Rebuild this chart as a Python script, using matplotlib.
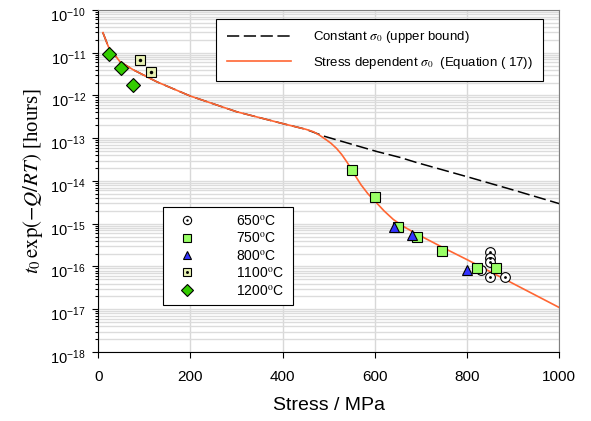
import numpy as np
import matplotlib
matplotlib.use('Agg')
import matplotlib.pyplot as plt
from matplotlib.ticker import LogLocator, NullFormatter
from matplotlib.transforms import ScaledTranslation
from matplotlib.legend_handler import HandlerTuple

plt.rcParams['font.family'] = ['Liberation Sans', 'DejaVu Sans']
plt.rcParams['mathtext.fontset'] = 'stix'
plt.rcParams['axes.unicode_minus'] = False

# model curves: stress (MPa) and log10 of t0*exp(-Q/RT) in hours
stress_sd = [10, 22, 47, 76, 127, 199, 300, 401, 450, 467, 480, 495, 505, 517, 528,
             539, 550, 560, 570, 585, 600, 620, 640, 660, 684, 700, 750, 800, 850,
             900, 1000]
logt_sd = [-10.53, -10.86, -11.21, -11.40, -11.68, -12.01, -12.38, -12.66, -12.79,
           -12.85, -12.93, -13.04, -13.12, -13.24, -13.38, -13.55, -13.74, -13.92,
           -14.09, -14.30, -14.47, -14.70, -14.90, -15.05, -15.20, -15.29, -15.57,
           -15.84, -16.12, -16.40, -16.96]

stress_const = [10, 22, 47, 76, 127, 199, 300, 401, 450, 489, 604, 655, 691, 800, 900, 1000]
logt_const = [-10.53, -10.86, -11.21, -11.40, -11.68, -12.01, -12.38, -12.66, -12.79,
              -12.95, -13.31, -13.45, -13.57, -13.90, -14.21, -14.53]

# measured points
s650 = [850, 850, 850, 830, 850, 882]
t650 = [2.2e-16, 1.6e-16, 1.3e-16, 8.3e-17, 5.6e-17, 5.6e-17]
s750 = [550, 601, 651, 691, 745, 821, 862]
t750 = [1.8e-14, 4.2e-15, 8.3e-16, 5.0e-16, 2.3e-16, 9.1e-17, 9.1e-17]
s800 = [642, 680, 800]
t800 = [8.5e-16, 5.6e-16, 8.3e-17]
s1100 = [90, 115]
t1100 = [6.7e-12, 3.5e-12]
s1200 = [23, 49, 75]
t1200 = [9.1e-12, 4.5e-12, 1.8e-12]

fig = plt.figure(figsize=(5.91, 4.21), dpi=100)
ax = fig.add_axes([0.1663, 0.1639, 0.7800, 0.8124])

l_const, = ax.plot(stress_const, 10**np.array(logt_const), color='black', lw=1.1,
                   dashes=(8, 3), zorder=3)
l_sd, = ax.plot(stress_sd, 10**np.array(logt_sd), color='#ff6633', lw=1.2, zorder=3)

mk = dict(linestyle='none', markeredgecolor='black', markeredgewidth=0.8)
c650, = ax.plot(s650, t650, marker='o', ms=7, markerfacecolor='white', zorder=4, **mk)
d650, = ax.plot(s650, t650, marker='o', ms=2, markerfacecolor='black', markeredgewidth=0,
                linestyle='none', color='black', zorder=4)
p750, = ax.plot(s750, t750, marker='s', ms=6.5, markerfacecolor='#99ff66', zorder=5, **mk)
p800, = ax.plot(s800, t800, marker='^', ms=7.5, markerfacecolor='#3333ff', zorder=6, **mk)
p1100, = ax.plot(s1100, t1100, marker='s', ms=6.5, markerfacecolor='#e8f2b4', zorder=5, **mk)
d1100, = ax.plot(s1100, t1100, marker='o', ms=2.5, markerfacecolor='black',
                 markeredgewidth=0, linestyle='none', color='black', zorder=5)
p1200, = ax.plot(s1200, t1200, marker='D', ms=7, markerfacecolor='#33cc00', zorder=5, **mk)

ax.set_yscale('log')
ax.set_xlim(0, 1000)
ax.set_ylim(1e-18, 1e-10)
ax.set_xticks([0, 200, 400, 600, 800, 1000])
ax.yaxis.set_major_locator(LogLocator(base=10, numticks=20))
ax.yaxis.set_minor_locator(LogLocator(base=10, subs=np.arange(2, 10), numticks=20))
ax.yaxis.set_minor_formatter(NullFormatter())

ax.grid(True, which='major', axis='x', color='#d8d8d8', lw=1.0)
ax.grid(True, which='both', axis='y', color='#dcdcdc', lw=1.0)
ax.set_axisbelow(True)

ax.tick_params(which='major', direction='out', length=4, width=0.8, labelsize=11, pad=5)
ax.tick_params(axis='y', which='major', labelsize=10.5)
ax.tick_params(which='minor', direction='out', length=2.5, width=0.8)
ax.tick_params(axis='x', pad=9)
for side in ['top', 'right']:
    ax.spines[side].set_color('#808080')

ax.set_xlabel('Stress / MPa', fontsize=14, labelpad=9)
ax.set_ylabel(r'$t_0\,\mathrm{exp}(-Q/RT)$ [hours]', fontsize=15,
              family='Liberation Serif', labelpad=4)

leg1 = ax.legend([l_const, l_sd],
                 [r'Constant $\sigma_0$ (upper bound)',
                  r'Stress dependent $\sigma_0$  (Equation ( 17))'],
                 loc='upper right', bbox_to_anchor=(0.965, 0.974), borderaxespad=0,
                 fontsize=9.5, handlelength=4.9, handletextpad=1.6, labelspacing=0.7,
                 fancybox=False, framealpha=1, edgecolor='black', borderpad=0.8)
leg1.get_frame().set_linewidth(0.8)
ax.add_artist(leg1)

leg2 = ax.legend([(c650, d650), p750, p800, (p1100, d1100), p1200],
                 ['650$^\\mathrm{o}$C', '750$^\\mathrm{o}$C', '800$^\\mathrm{o}$C',
                  '1100$^\\mathrm{o}$C', '1200$^\\mathrm{o}$C'],
                 handler_map={tuple: HandlerTuple(ndivide=1, pad=0)},
                 loc='upper left', bbox_to_anchor=(0.140, 0.132, 0.282, 0.292),
                 mode='expand', borderaxespad=0, fontsize=10, handlelength=2.5,
                 handletextpad=2.3, labelspacing=0.25, markerscale=0.85,
                 fancybox=False, framealpha=1, edgecolor='black', borderpad=0.5)
leg2.get_frame().set_linewidth(0.8)
leg2.set_zorder(10)

# drop the y tick labels a few pixels below their ticks
fig.canvas.draw()
offset = ScaledTranslation(0, -3 / 72, fig.dpi_scale_trans)
for tick in ax.yaxis.get_major_ticks():
    tick.label1.set_transform(tick.label1.get_transform() + offset)

fig.savefig('out.png', dpi=100)
